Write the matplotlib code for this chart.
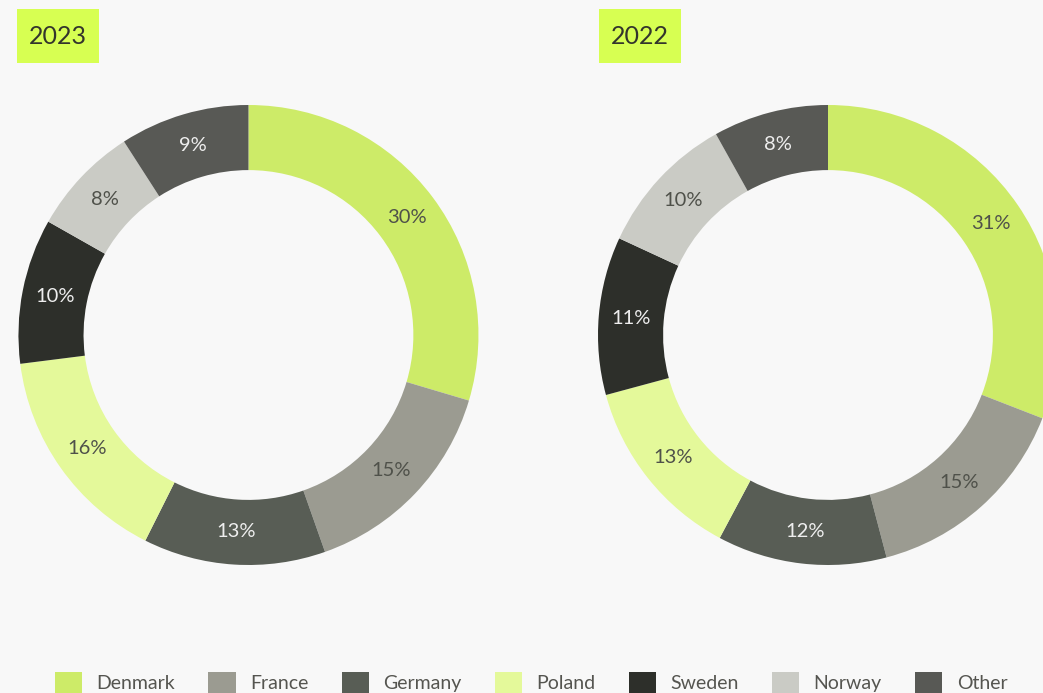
import matplotlib
matplotlib.use("Agg")
import numpy as np
import matplotlib.pyplot as plt
from matplotlib.patches import Patch, Rectangle

countries = ["Denmark", "France", "Germany", "Poland", "Sweden", "Norway", "Other"]
share_2023 = [29.6, 15.0, 12.8, 15.6, 10.2, 7.7, 9.1]
share_2022 = [30.9, 15.0, 11.9, 13.0, 11.1, 10.0, 8.1]
years = ["2023", "2022"]

colors = ["#cdeb68", "#9b9b91", "#585d55", "#e4f99a", "#2d2f2a", "#cacbc5", "#585955"]
label_colors = ["#4f514a", "#4f514a", "#eeeeee", "#4f514a", "#eeeeee", "#4f514a", "#eeeeee"]

BG = "#f8f8f8"
plt.rcParams["font.family"] = ["Lato", "DejaVu Sans"]

W, H = 1043, 693
fig = plt.figure(figsize=(W / 100, H / 100), dpi=100, facecolor=BG)


def px_axes(x0, y0, w, h):
    # pixel box (top-left origin) -> figure axes
    return fig.add_axes([x0 / W, 1 - (y0 + h) / H, w / W, h / H])


def donut(cx, values, r=230, cy=335):
    ax = px_axes(cx - r, cy - r, 2 * r, 2 * r)
    ax.set_facecolor(BG)
    wedges, _ = ax.pie(values, colors=colors, startangle=90, counterclock=False,
                       radius=1, wedgeprops=dict(width=0.283, linewidth=0))
    for w, v, lc in zip(wedges, values, label_colors):
        ang = np.deg2rad((w.theta1 + w.theta2) / 2)
        ax.text(0.858 * np.cos(ang), 0.858 * np.sin(ang), f"{round(v)}%",
                ha="center", va="center", fontsize=14.5, color=lc)
    ax.set_xlim(-1, 1)
    ax.set_ylim(-1, 1)
    ax.set_aspect("equal")
    ax.axis("off")
    return ax


ax1 = donut(248, share_2023)
# left chart is cut flat on its right side
ax1.set_xlim(-1, 0.996)
ax1.set_position([18 / W, 1 - 565 / H, 460 / W, 460 / H])
ax2 = donut(828, share_2022)

# year tags
for x0, year in [(17, years[0]), (599, years[1])]:
    fig.patches.append(Rectangle((x0 / W, 1 - 63 / H), 82 / W, 54 / H,
                                 transform=fig.transFigure, facecolor="#d7ff52",
                                 edgecolor="none"))
    fig.text((x0 + 41) / W, 1 - 37 / H, year, ha="center", va="center",
             fontsize=18, color="#33352c")

handles = [Patch(facecolor=c, edgecolor="none") for c in colors]
leg = fig.legend(handles, countries, loc="center", ncol=7,
                 bbox_to_anchor=(531 / W, 10 / H), frameon=False, fontsize=14,
                 handlelength=1.4, handleheight=1.4, handletextpad=0.75,
                 columnspacing=1.7, labelcolor="#555550")

fig.savefig("out.png", dpi=100, facecolor=BG)
